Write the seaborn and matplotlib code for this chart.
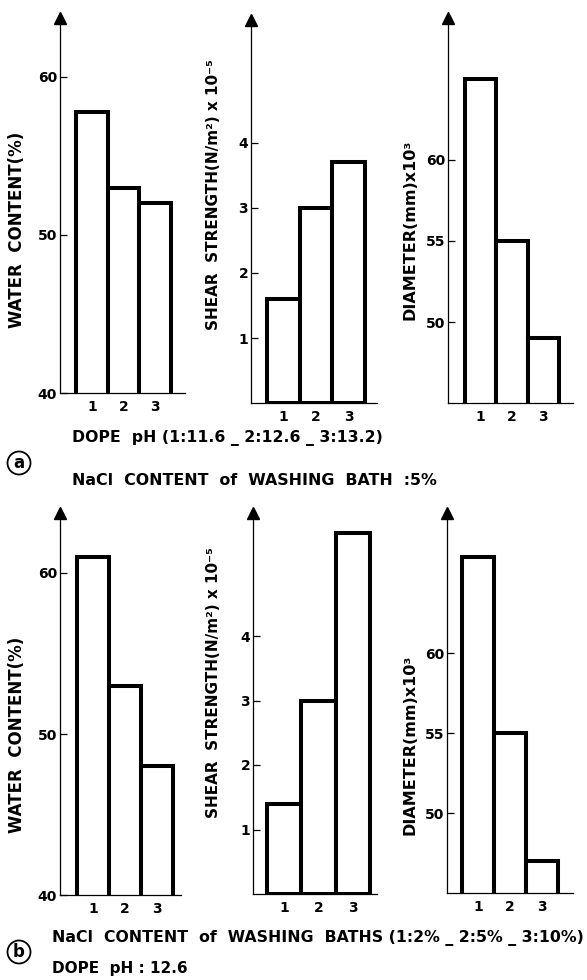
import matplotlib
matplotlib.use('Agg')
import matplotlib.pyplot as plt
import seaborn as sns
import pandas as pd

W, H = 587, 980

# ---------------- data ----------------
conditions = ["1", "2", "3"]
water_a = [57.8, 53.0, 52.0]
shear_a = [1.6, 3.0, 3.7]
diam_a = [65.0, 55.0, 49.0]
water_b = [61.0, 53.0, 48.0]
shear_b = [1.4, 3.0, 5.6]
diam_b = [66.0, 55.0, 47.0]

water_ticks = [40, 50, 60]
shear_ticks = [1, 2, 3, 4]
diam_ticks = [50, 55, 60]

water_label = "WATER  CONTENT(%)"
shear_label = "SHEAR  STRENGTH(N/m²) x 10⁻⁵"
diam_label = "DIAMETER(mm)x10³"
caption_a1 = "DOPE  pH (1:11.6 _ 2:12.6 _ 3:13.2)"
caption_a2 = "NaCl  CONTENT  of  WASHING  BATH  :5%"
caption_b1 = "NaCl  CONTENT  of  WASHING  BATHS (1:2% _ 2:5% _ 3:10%)"
caption_b2 = "DOPE  pH : 12.6"

# ---------------- style ----------------
sns.set_style('white')
FONT = ['DejaVu Sans']
plt.rcParams['font.family'] = FONT
plt.rcParams['font.weight'] = 'bold'
plt.rcParams['text.color'] = 'black'
plt.rcParams['xtick.color'] = 'black'
plt.rcParams['ytick.color'] = 'black'
plt.rcParams['axes.labelcolor'] = 'black'

fig = plt.figure(figsize=(W / 100, H / 100), dpi=100)


def panel(values, ticks, label, axx, xend, base, top, barL, barR, y0, ppu,
          label_xy, label_size):
    ax = fig.add_axes([axx / W, 1 - base / H, (xend - axx) / W, (base - top) / H])
    df = pd.DataFrame({"cond": conditions, "val": values})
    sns.barplot(data=df, x="cond", y="val", ax=ax, width=1.0, color="white",
                saturation=1, edgecolor="black", linewidth=2.9, errorbar=None)
    unit = (barR - barL) / 3.0
    ax.set_xlim(-0.5 - (barL - axx) / unit, 2.5 + (xend - barR) / unit)
    ax.set_ylim(y0, y0 + (base - top) / ppu)
    for s in ("top", "right"):
        ax.spines[s].set_visible(False)
    for s in ("left", "bottom"):
        ax.spines[s].set_linewidth(0.9)
        ax.spines[s].set_color("black")
    ax.set_yticks(ticks)
    ax.set_yticklabels([str(t) for t in ticks], fontsize=10, fontweight='bold',
                       color='black')
    ax.tick_params(axis='y', direction='in', length=5, width=0.9, pad=2,
                   left=True, colors='black')
    ax.tick_params(axis='x', length=0, pad=5, labelsize=10, colors='black')
    for t in ax.get_xticklabels():
        t.set_fontweight('bold')
    ax.set_xlabel("")
    ax.set_ylabel("")
    ax.plot(0, 1, transform=ax.transAxes, marker='^', markersize=9,
            color='black', clip_on=False)
    fig.text(label_xy[0] / W, 1 - label_xy[1] / H, label, rotation=90,
             ha='center', va='center', fontsize=label_size, fontweight='bold',
             color='black')
    return ax


panel(water_a, water_ticks, water_label, 60, 185, 393, 18, 76, 171, 40, 15.8, (17, 230), 12)
panel(shear_a, shear_ticks, shear_label, 251, 377, 403, 20, 267, 365, 0, 65.0, (213, 195), 11)
panel(diam_a, diam_ticks, diam_label, 448, 573, 403, 18, 465, 559, 45, 16.2, (410, 230), 11.5)
panel(water_b, water_ticks, water_label, 60, 181, 895, 513, 77, 173, 40, 16.1, (17, 735), 12)
panel(shear_b, shear_ticks, shear_label, 253, 377, 894, 513, 267, 370, 0, 64.5, (213, 683), 11)
panel(diam_b, diam_ticks, diam_label, 447, 573, 893, 513, 462, 558, 45, 16.0, (410, 745), 11.5)


def ftext(x, y, s, **kw):
    fig.text(x / W, 1 - y / H, s, fontweight='bold', color='black', **kw)


ftext(72, 438, caption_a1, ha='left', va='center', fontsize=11.3)
ftext(72, 480, caption_a2, ha='left', va='center', fontsize=11.4)
ftext(19, 463, "a", ha='center', va='center', fontsize=12,
      bbox=dict(boxstyle='circle,pad=0.15', fc='white', ec='black', lw=1.3))
ftext(52, 938, caption_b1, ha='left', va='center', fontsize=11.3)
ftext(52, 968, caption_b2, ha='left', va='center', fontsize=11)
ftext(19, 952, "b", ha='center', va='center', fontsize=12,
      bbox=dict(boxstyle='circle,pad=0.15', fc='white', ec='black', lw=1.3))

fig.savefig("out.png", dpi=100, facecolor='white')
